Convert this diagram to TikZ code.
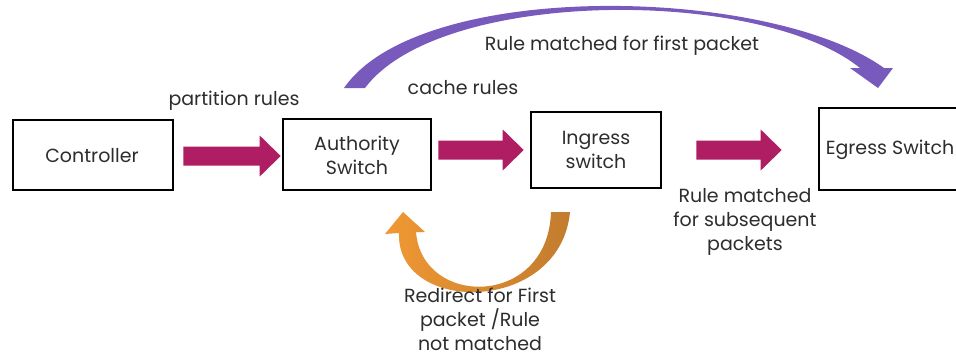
\documentclass[tikz,border=0pt]{standalone}
\usepackage{fontspec}
\setmainfont{Poppins}
\usetikzlibrary{calc}
\definecolor{txt}{RGB}{45,45,45}
\definecolor{magarrow}{RGB}{175,30,99}
\definecolor{purplearc}{RGB}{120,89,188}
\definecolor{orangeL}{RGB}{240,152,52}
\definecolor{orangeD}{RGB}{194,124,46}
\tikzset{
  box/.style={draw=black, line width=2.6pt, fill=white, inner sep=0pt},
  lbl/.style={text=txt, font=\fontsize{19}{24}\selectfont, align=center, inner sep=0pt},
}
% block arrow from point #1 to point #2 (horizontal)
\newcommand{\blockarrow}[2]{%
  \fill[magarrow] let \p1=#1, \p2=#2 in
    (\x1,\y1+9.5) -- (\x2-21,\y1+9.5) -- (\x2-21,\y1+20.5) -- (\x2,\y1)
    -- (\x2-21,\y1-20.5) -- (\x2-21,\y1-9.5) -- (\x1,\y1-9.5) -- cycle;}
\begin{document}
\begin{tikzpicture}[x=1pt,y=-1pt]
\useasboundingbox (0,0) rectangle (956,356);
\fill[white] (0,0) rectangle (956,356);

% switches and controller
\node[box, minimum width=160pt, minimum height=70pt] (ctrl) at (93,155) {};
\node[lbl] (ctrltxt) at (92,156) {Controller};
\node[box, minimum width=148pt, minimum height=71pt] (auth) at (357,154.5) {};
\node[lbl] (authtxt) at (357,155) {Authority\\Switch};
\node[box, minimum width=130pt, minimum height=76pt] (ing) at (596,150) {};
\node[lbl] (ingtxt) at (596,150) {Ingress\\switch};
\node[box, minimum width=182pt, minimum height=82pt] (egr) at (910,149) {};
\node[lbl] (egrtxt) at (890,150) {Egress Switch};

% straight block arrows
\blockarrow{($(ctrl.east)+(9,1)$)}{($(auth.west)+(-1,1.5)$)}
\blockarrow{($(auth.east)+(6,-4.5)$)}{($(ing.west)+(-6,0)$)}
\blockarrow{($(ing.east)+(34,0)$)}{($(egr.west)+(-36,1)$)}

% curved arrow over the top: authority switch to egress switch
\fill[purplearc]
  (344,88) .. controls (420,-22) and (770,-14) .. (884,68)
  -- (893,68) -- (878,88) -- (850,68) -- (860,68)
  .. controls (760,-13) and (440,-12) .. (365,88) -- cycle;

% curved arrow below: ingress switch back to authority switch
\shade[left color=orangeL, right color=orangeD]
  (570,212) .. controls (560,315) and (396,315) .. (399,233)
  -- (385,234) -- (403,212) -- (425,232) -- (416,232)
  .. controls (422,308) and (548,308) .. (551,212) -- cycle;

% labels
\node[lbl] (partl) at (234,101) {partition rules};
\node[lbl] (cachel) at (463,88) {cache rules};
\node[lbl] (firstl) at (622,46) {Rule matched for first packet};
\node[lbl] (subsl) at (745,222) {Rule matched\\for subsequent\\packets};
\node[lbl] (redirl) at (480,319) {Redirect for First\\packet /Rule\\not matched};
\end{tikzpicture}
\end{document}
